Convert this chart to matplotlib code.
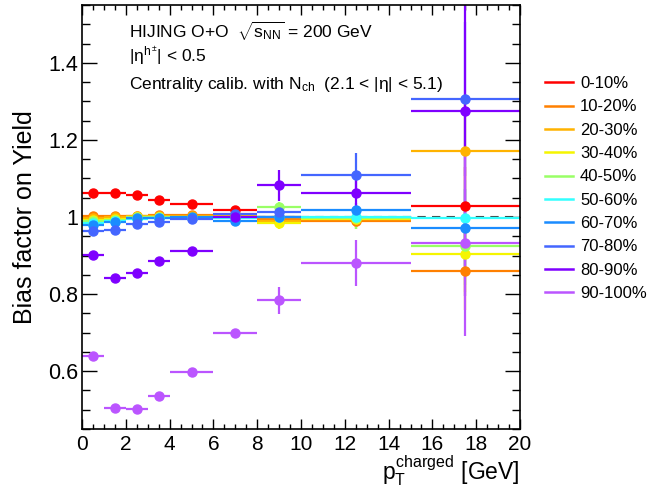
import matplotlib
matplotlib.use("Agg")
import matplotlib.pyplot as plt
from matplotlib.lines import Line2D
import numpy as np

plt.rcParams['font.family'] = ['Liberation Sans', 'DejaVu Sans']
plt.rcParams['mathtext.fontset'] = 'custom'
plt.rcParams['mathtext.rm'] = 'Liberation Sans'
plt.rcParams['mathtext.it'] = 'Liberation Sans'
plt.rcParams['mathtext.bf'] = 'Liberation Sans:bold'

# pT bins
pt_centers = [0.5, 1.5, 2.5, 3.5, 5, 7, 9, 12.5, 17.5]
pt_halfwidth = [0.5, 0.5, 0.5, 0.5, 1, 1, 1, 2.5, 2.5]

labels = ["0-10%", "10-20%", "20-30%", "30-40%", "40-50%",
          "50-60%", "60-70%", "70-80%", "80-90%", "90-100%"]
colors = ["#ff0000", "#ff8000", "#ffb300", "#f5f500", "#99ff66",
          "#33ffff", "#1a8cff", "#4466ff", "#7f00ff", "#bb55ff"]

bias_0_10 = [1.063, 1.062, 1.056, 1.045, 1.033, 1.019, 1.000, 0.995, 1.029]
bias_10_20 = [1.002, 1.002, 1.003, 1.004, 1.004, 1.003, 0.995, 0.990, 0.860]
bias_20_30 = [0.998, 0.999, 1.002, 1.003, 1.003, 1.004, 0.990, 0.995, 1.170]
bias_30_40 = [0.993, 0.995, 1.000, 1.001, 1.000, 1.000, 0.985, 0.995, 0.905]
bias_40_50 = [0.990, 0.993, 0.999, 1.000, 0.998, 1.000, 1.025, 0.998, 0.924]
bias_50_60 = [0.985, 0.990, 0.996, 0.998, 0.997, 0.998, 1.000, 1.000, 0.997]
bias_60_70 = [0.980, 0.986, 0.997, 0.998, 1.000, 0.989, 1.000, 1.017, 0.972]
bias_70_80 = [0.963, 0.967, 0.981, 0.986, 0.995, 1.008, 1.012, 1.110, 1.306]
bias_80_90 = [0.902, 0.841, 0.855, 0.885, 0.913, 0.999, 1.082, 1.061, 1.274]
bias_90_100 = [0.639, 0.505, 0.502, 0.536, 0.598, 0.700, 0.784, 0.880, 0.932]

err_0_10 = [0.003, 0.003, 0.003, 0.003, 0.004, 0.006, 0.015, 0.02, 0.10]
err_10_20 = [0.003, 0.003, 0.003, 0.003, 0.004, 0.006, 0.015, 0.02, 0.10]
err_20_30 = [0.003, 0.003, 0.003, 0.003, 0.004, 0.006, 0.015, 0.02, 0.15]
err_30_40 = [0.003, 0.003, 0.003, 0.003, 0.004, 0.006, 0.015, 0.02, 0.10]
err_40_50 = [0.003, 0.003, 0.003, 0.003, 0.004, 0.006, 0.015, 0.03, 0.10]
err_50_60 = [0.003, 0.003, 0.003, 0.003, 0.004, 0.006, 0.015, 0.02, 0.10]
err_60_70 = [0.003, 0.003, 0.003, 0.003, 0.004, 0.006, 0.015, 0.02, 0.10]
err_70_80 = [0.003, 0.003, 0.003, 0.003, 0.004, 0.008, 0.020, 0.055, 0.20]
err_80_90 = [0.003, 0.003, 0.003, 0.003, 0.004, 0.008, 0.040, 0.045, 0.48]
err_90_100 = [0.004, 0.004, 0.004, 0.004, 0.005, 0.010, 0.035, 0.060, 0.24]

series = [bias_0_10, bias_10_20, bias_20_30, bias_30_40, bias_40_50,
          bias_50_60, bias_60_70, bias_70_80, bias_80_90, bias_90_100]
errors = [err_0_10, err_10_20, err_20_30, err_30_40, err_40_50,
          err_50_60, err_60_70, err_70_80, err_80_90, err_90_100]

fig = plt.figure(figsize=(6.65, 4.88), dpi=100)
ax = fig.add_axes([82/665, 1-429/488, (520-82)/665, (429-5)/488])

ax.plot([0, 20], [1, 1], ls=(0, (4, 3)), color='#444444', lw=1.5, zorder=1)

for vals, errs, c in zip(series, errors, colors):
    ax.errorbar(pt_centers, vals, xerr=pt_halfwidth, yerr=errs, fmt='o',
                color=c, ms=6.5, lw=1.6, capsize=0, zorder=2)

ax.set_xlim(0, 20)
ax.set_ylim(0.45, 1.55)
ax.set_xticks(np.arange(0, 21, 2))
ax.set_xticks(np.arange(0, 20.01, 0.5), minor=True)
ax.set_yticks([0.6, 0.8, 1.0, 1.2, 1.4])
ax.set_yticklabels(["0.6", "0.8", "1", "1.2", "1.4"])
ax.set_yticks(np.arange(0.45, 1.551, 0.05), minor=True)
ax.tick_params(which='both', direction='in', top=True, right=True, width=1)
ax.tick_params(axis='y', labelsize=15.5)
ax.tick_params(axis='x', labelsize=15)
ax.tick_params(axis='x', which='major', length=7.5, pad=4)
ax.tick_params(axis='x', which='minor', length=3.8)
ax.tick_params(axis='y', which='major', length=11, pad=3)
ax.tick_params(axis='y', which='minor', length=5.5)
for s in ax.spines.values():
    s.set_linewidth(1.2)

ax.set_ylabel("Bias factor on Yield", fontsize=18, labelpad=8)
fig.text(520/665, 1-480/488, r"$p_{\rm T}^{\rm charged}$ [GeV]", fontsize=16.5,
         ha='right', va='baseline')

fig.text(129/665, 1-38/488, r"HIJING O+O  $\sqrt{s_{\rm NN}}$ = 200 GeV",
         fontsize=12.5, ha='left', va='baseline')
fig.text(129/665, 1-63/488, r"$|\eta^{h^{\pm}}|$ < 0.5",
         fontsize=12.5, ha='left', va='baseline')
fig.text(129/665, 1-89/488, r"Centrality calib. with N$_{\rm ch}$  (2.1 < |$\eta$| < 5.1)",
         fontsize=12.5, ha='left', va='baseline')

handles = [Line2D([], [], color=c, lw=1.8) for c in colors]
fig.legend(handles, labels, loc='upper left',
           bbox_to_anchor=(545/665, 1-76/488), frameon=False, fontsize=12,
           handlelength=1.65, handletextpad=0.45, labelspacing=0.5,
           borderpad=0, borderaxespad=0)

fig.savefig("out.png", dpi=100)
